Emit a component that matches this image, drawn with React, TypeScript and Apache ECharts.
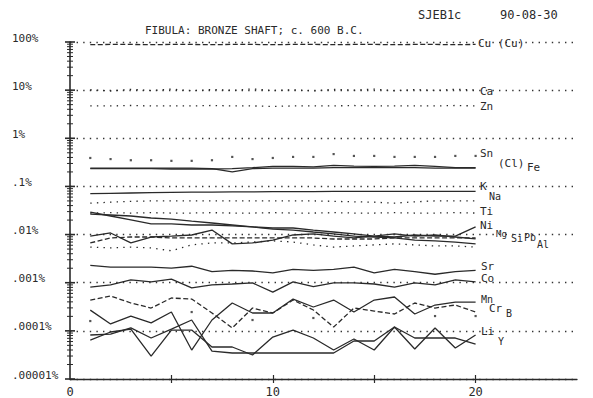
import { useEffect, useRef } from "react";
import * as echarts from "echarts";

const FONT = '"DejaVu Sans Mono", "Liberation Mono", monospace';
const INK = "#2a2a2a";

const runs = [1, 2, 3, 4, 5, 6, 7, 8, 9, 10, 11, 12, 13, 14, 15, 16, 17, 18, 19, 20];

const yTickLabels = ["100%", "10%", "1%", ".1%", ".01%", ".001%", ".0001%", ".00001%"];
const xTickLabels = [0, 10, 20];
const xTickMarks = [5, 10, 15, 20];

// percent values
const cu = [88, 89, 89, 88, 89, 89, 88, 89, 89, 88, 89, 89, 88, 89, 89, 88, 89, 89, 88, 89];
const ca = [10.2, 9.6, 10.4, 9.8, 10.5, 9.7, 10.3, 9.9, 10.6, 9.8, 10.2, 9.6, 10.4, 10.0, 10.5, 9.7, 10.3, 9.9, 10.4, 10.1];
const zn = [4.7, 4.7, 4.8, 4.7, 4.7, 4.7, 4.8, 4.7, 4.7, 4.6, 4.7, 4.7, 4.7, 4.8, 4.7, 4.7, 4.7, 4.7, 4.8, 4.7];
const sn = [0.39, 0.37, 0.35, 0.35, 0.34, 0.34, 0.35, 0.41, 0.37, 0.39, 0.41, 0.41, 0.47, 0.43, 0.43, 0.41, 0.41, 0.41, 0.43, 0.43];
const fe = [0.24, 0.24, 0.24, 0.24, 0.24, 0.24, 0.235, 0.2, 0.235, 0.24, 0.24, 0.24, 0.245, 0.245, 0.245, 0.245, 0.245, 0.24, 0.24, 0.24];
const cl = [0.235, 0.235, 0.235, 0.235, 0.23, 0.23, 0.23, 0.235, 0.245, 0.26, 0.26, 0.255, 0.275, 0.265, 0.26, 0.265, 0.275, 0.26, 0.245, 0.245];
const k = [0.071, 0.072, 0.073, 0.074, 0.075, 0.076, 0.076, 0.077, 0.077, 0.078, 0.078, 0.078, 0.079, 0.079, 0.079, 0.079, 0.079, 0.079, 0.079, 0.079];
const na = [0.045, 0.047, 0.049, 0.05, 0.05, 0.05, 0.05, 0.05, 0.05, 0.05, 0.05, 0.05, 0.049, 0.048, 0.047, 0.045, 0.048, 0.05, 0.05, 0.05];
const ti = [0.028, 0.0285, 0.028, 0.0285, 0.028, 0.028, 0.0285, 0.028, 0.028, 0.0285, 0.028, 0.028, 0.0285, 0.028, 0.028, 0.0285, 0.028, 0.028, 0.0285, 0.028];
const ni = [0.0294, 0.0243, 0.0201, 0.0166, 0.0166, 0.0158, 0.0158, 0.0151, 0.0144, 0.0137, 0.0137, 0.0124, 0.0113, 0.0103, 0.0093, 0.0089, 0.0098, 0.0093, 0.0093, 0.0144];
const al = [0.0267, 0.0255, 0.0243, 0.0221, 0.021, 0.0191, 0.0174, 0.0158, 0.0144, 0.013, 0.0124, 0.0113, 0.0103, 0.0093, 0.0089, 0.0085, 0.0077, 0.0074, 0.007, 0.0064];
const mg = [0.0093, 0.0108, 0.0067, 0.0089, 0.0093, 0.0098, 0.0124, 0.0064, 0.0067, 0.0077, 0.0098, 0.0103, 0.0093, 0.0085, 0.0093, 0.0103, 0.0093, 0.0098, 0.0089, 0.0081];
const si = [0.0067, 0.0085, 0.0089, 0.0089, 0.0085, 0.0085, 0.0085, 0.0085, 0.0085, 0.0085, 0.0085, 0.0085, 0.0081, 0.0081, 0.0081, 0.0085, 0.0085, 0.0085, 0.0085, 0.0085];
const pb = [0.0055, 0.0053, 0.0055, 0.0053, 0.0046, 0.0061, 0.0067, 0.0067, 0.007, 0.0074, 0.007, 0.0061, 0.0055, 0.0058, 0.0061, 0.0064, 0.0061, 0.0058, 0.0058, 0.0055];
const sr = [0.0023, 0.0021, 0.0021, 0.0021, 0.002, 0.0022, 0.0017, 0.0018, 0.00175, 0.0016, 0.0019, 0.0018, 0.0019, 0.0021, 0.0016, 0.0019, 0.0017, 0.0015, 0.0017, 0.0018];
const co = [0.00081, 0.0009, 0.00114, 0.00104, 0.00119, 0.00078, 0.0009, 0.00094, 0.00099, 0.00064, 0.00104, 0.00083, 0.00099, 0.00099, 0.00094, 0.00081, 0.00099, 0.0009, 0.00114, 0.00104];
const mn = [0.00027, 0.000139, 0.000203, 0.000146, 0.000246, 0.00004, 0.000168, 0.000379, 0.000235, 0.000235, 0.000458, 0.000313, 0.000437, 0.000246, 0.000437, 0.000505, 0.000224, 0.000344, 0.000397, 0.000397];
const cr = [0.000437, 0.00053, 0.000379, 0.000298, 0.000481, 0.000458, 0.000235, 0.000115, 0.000298, 0.000235, 0.000437, 0.000271, 0.00012, 0.000298, 0.000258, 0.000224, 0.000379, 0.000298, 0.000344, 0.000246];
const b = [0.00016, null, null, null, null, 0.000246, null, null, 0.000168, null, null, 0.000185, null, null, null, null, null, 0.000203, null, 0.000203];
const li = [0.0000645, 0.0000946, 0.000109, 0.00003, 0.000104, 0.000104, 0.0000462, 0.0000462, 0.0000315, 0.0000745, 0.000104, 0.000071, 0.00004, 0.0000677, 0.00004, 0.00012, 0.000042, 0.000115, 0.0000441, 0.000082];
const yt = [0.000082, 0.0000859, 0.000115, 0.000071, 0.000109, 0.000168, 0.0000381, 0.0000347, 0.0000347, 0.0000347, 0.0000347, 0.0000347, 0.0000347, 0.0000615, 0.0000615, 0.00012, 0.000071, 0.000071, 0.000071, 0.0000533];

// element labels at the right end of the traces
const elementLabels: [string, number, number, number][] = [
  ["Cu (Cu)", 478, 43, 11],
  ["Ca", 480, 91, 11],
  ["Zn", 480, 106, 11],
  ["Sn", 480, 153, 11],
  ["(Cl)", 498, 163, 11],
  ["Fe", 527, 167, 11],
  ["K", 480, 186, 11],
  ["Na", 489, 196, 10],
  ["Ti", 480, 211, 11],
  ["Ni", 480, 225, 11],
  ["Mg", 496, 234, 9],
  ["Si", 511, 238, 10],
  ["Pb", 524, 237, 10],
  ["Al", 537, 244, 10],
  ["Sr", 481, 266, 11],
  ["Co", 481, 278, 11],
  ["Mn", 481, 299, 10],
  ["Cr", 489, 308, 11],
  ["B", 506, 313, 10],
  ["Li", 481, 331, 11],
  ["Y", 498, 341, 10],
];

const DOT = [1.4, 5.2];
const DASH = [5, 2.5];

const pts = (arr: (number | null)[]) =>
  arr.map((v, i) => (v == null ? null : [runs[i], v])).filter((p) => p != null);

function line(name: string, data: number[], kind: "solid" | "dotted" | "dashed") {
  return {
    type: "line",
    name,
    data: pts(data),
    showSymbol: false,
    symbol: "none",
    lineStyle: {
      color: INK,
      width: 1.3,
      type: kind === "solid" ? "solid" : kind === "dotted" ? DOT : DASH,
    },
    z: 3,
  };
}

function dots(name: string, data: (number | null)[]) {
  return {
    type: "scatter",
    name,
    data: pts(data),
    symbol: "rect",
    symbolSize: 2.2,
    itemStyle: { color: INK },
    z: 3,
  };
}

// y axis tick marks (log minor ticks)
const yTickMarks: number[][] = [];
for (let e = -5; e <= 1; e++) {
  for (let m = 1; m <= 9; m++) yTickMarks.push([0, m * Math.pow(10, e), m === 1 ? 1 : 0]);
}
yTickMarks.push([0, 100, 1]);

export default function App() {
  const ref = useRef<HTMLDivElement>(null);
  useEffect(() => {
    const chart = echarts.init(ref.current!, null, { renderer: "svg" });
    const option: any = {
      animation: false,
      backgroundColor: "#ffffff",
      textStyle: { fontFamily: FONT },
      grid: { left: 70, right: 16, top: 42, bottom: 19, containLabel: false },
      xAxis: [
        {
          type: "value",
          min: 0,
          max: 25,
          interval: 5,
          axisLine: { onZero: false, lineStyle: { color: INK, width: 1.3 } },
          axisTick: { length: 4, customValues: xTickMarks, lineStyle: { color: INK, width: 1.2 } },
          axisLabel: {
            margin: 7,
            fontSize: 12,
            color: INK,
            fontFamily: FONT,
            customValues: xTickLabels,
            formatter: (v: number) => (xTickLabels.includes(v) ? String(v) : ""),
          },
          splitLine: { show: false },
        },
        {
          type: "value",
          min: 0,
          max: 25,
          interval: 5,
          position: "bottom",
          axisLine: { show: false, onZero: false },
          axisTick: { inside: true, length: 4, customValues: xTickMarks, lineStyle: { color: INK, width: 1.2 } },
          axisLabel: { show: false },
          splitLine: { show: false },
        },
      ],
      yAxis: {
        type: "log",
        logBase: 10,
        min: 0.00001,
        max: 100,
        interval: 1,
        splitNumber: 7,
        axisLine: { lineStyle: { color: INK, width: 1.6 } },
        axisTick: { show: false },
        axisLabel: {
          align: "left",
          margin: 58,
          fontSize: 11,
          color: INK,
          fontFamily: FONT,
          verticalAlign: "bottom",
          lineHeight: 8,
          formatter: (v: number) => yTickLabels[Math.round(2 - Math.log10(v))] ?? "",
        },
        splitLine: { show: true, lineStyle: { color: "#333", width: 1.3, type: DOT } },
      },
      series: [
        {
          type: "custom",
          name: "yticks",
          clip: false,
          data: yTickMarks,
          encode: { x: 0, y: 1 },
          z: 5,
          renderItem: (_p: any, api: any) => {
            const p = api.coord([0, api.value(1)]);
            const major = api.value(2) === 1;
            const h = major ? 5 : 3;
            return {
              type: "line",
              shape: { x1: p[0] - h, y1: p[1], x2: p[0] + h, y2: p[1] },
              style: { stroke: INK, lineWidth: major ? 1.6 : 1 },
            };
          },
        },
        line("Cu", cu, "dashed"),
        line("Ca", ca, "dotted"),
        line("Zn", zn, "dotted"),
        dots("Sn", sn),
        line("Fe", fe, "solid"),
        line("Cl", cl, "solid"),
        line("K", k, "solid"),
        line("Na", na, "dotted"),
        line("Ti", ti, "dotted"),
        line("Ni", ni, "solid"),
        line("Al", al, "solid"),
        line("Mg", mg, "solid"),
        line("Si", si, "dashed"),
        line("Pb", pb, "dotted"),
        line("Sr", sr, "solid"),
        line("Co", co, "solid"),
        line("Mn", mn, "solid"),
        line("Cr", cr, "dashed"),
        dots("B", b),
        line("Li", li, "solid"),
        line("Y", yt, "solid"),
      ],
      graphic: [
        {
          type: "text",
          x: 145,
          y: 30,
          style: { text: "FIBULA: BRONZE SHAFT; c. 600 B.C.", font: `11px ${FONT}`, fill: INK, verticalAlign: "middle" },
        },
        {
          type: "text",
          x: 418,
          y: 15,
          style: { text: "SJEB1c", font: `12px ${FONT}`, fill: INK, verticalAlign: "middle" },
        },
        {
          type: "text",
          x: 500,
          y: 15,
          style: { text: "90-08-30", font: `12px ${FONT}`, fill: INK, verticalAlign: "middle" },
        },
        ...elementLabels.map(([t, x, y, s]) => ({
          type: "text",
          x,
          y,
          style: { text: t, font: `${s}px ${FONT}`, fill: INK, verticalAlign: "middle" },
        })),
      ],
    };
    chart.setOption(option);
    return () => chart.dispose();
  }, []);
  return <div ref={ref} style={{ position: "absolute", left: 0, top: 0, width: 593, height: 398 }} />;
}
